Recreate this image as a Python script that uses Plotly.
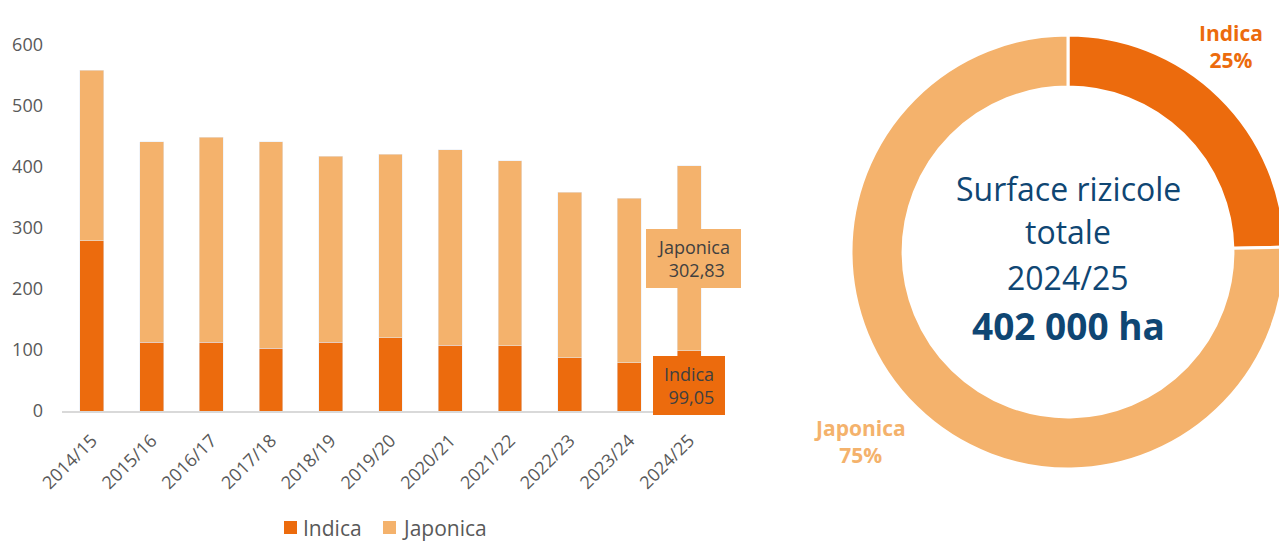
import plotly.graph_objects as go

campaigns = ["2014/15", "2015/16", "2016/17", "2017/18", "2018/19", "2019/20",
             "2020/21", "2021/22", "2022/23", "2023/24", "2024/25"]
indica = [279, 113, 113, 103, 113, 120, 108, 107, 87, 79, 99.05]
japonica = [280, 328, 336, 338, 305, 301, 320, 303, 272, 270, 302.83]
donut_labels = ["Indica", "Japonica"]
donut_values = [99.05, 302.83]

C_IND = "#ec6b0d"
C_JAP = "#f4b26c"
C_BLUE = "#0f4673"
FONT = "Open Sans"
# page body has an 8px margin: figure drawn from (8, 8)
OX, OY = 8, 8
FW, FH = 1279, 533


def px(x):
    return (x - OX) / FW


def py(y):
    return (FH - (y - OY)) / FH


fig = go.Figure()
fig.add_trace(go.Bar(x=campaigns, y=indica, name="Indica", marker_color=C_IND, width=0.4,
                     showlegend=False))
fig.add_trace(go.Bar(x=campaigns, y=japonica, name="Japonica", marker_color=C_JAP, width=0.4,
                     showlegend=False))

fig.add_trace(go.Pie(labels=donut_labels, values=donut_values, hole=0.76, sort=False,
                     direction="clockwise", rotation=0, textinfo="none", showlegend=False,
                     marker=dict(colors=[C_IND, C_JAP], line=dict(color="white", width=3)),
                     domain=dict(x=[px(851), px(1285)], y=[py(469), py(35)])))

last = campaigns[-1]
fig.add_annotation(x=last, y=indica[-1] + japonica[-1] / 2, xref="x", yref="y",
                   text="Japonica<br> " + f"{japonica[-1]:.2f}".replace(".", ","),
                   showarrow=False, bgcolor=C_JAP, borderpad=7.5, borderwidth=0,
                   width=80, height=44, xshift=4,
                   font=dict(family=FONT, size=18, color="#404040"))
fig.add_annotation(x=last, y=indica[-1] / 2 - 8.5, xref="x", yref="y",
                   text="Indica<br> " + f"{indica[-1]:.2f}".replace(".", ","),
                   showarrow=False, bgcolor=C_IND, borderpad=7.5, borderwidth=0,
                   width=57, height=44, xshift=0,
                   font=dict(family=FONT, size=18, color="#404040"))

# legend drawn manually (keeps plot geometry fixed)
for name, color, x0 in [("Indica", C_IND, 284), ("Japonica", C_JAP, 383)]:
    fig.add_shape(type="rect", xref="paper", yref="paper",
                  x0=px(x0), x1=px(x0 + 13), y0=py(534), y1=py(521),
                  fillcolor=color, line=dict(width=0))
    fig.add_annotation(x=px(x0 + 17), y=py(527.5), xref="paper", yref="paper",
                       showarrow=False, xanchor="left", yanchor="middle", text=name,
                       font=dict(family=FONT, size=21, color="#595959"))

cx = px(1068)
for txt, yy, sz in [("Surface rizicole", 188, 32), ("totale", 232, 32), ("2024/25", 277, 32),
                    ("<b>402 000 ha</b>", 325, 37)]:
    fig.add_annotation(x=cx, y=py(yy), xref="paper", yref="paper", showarrow=False,
                       xanchor="center", yanchor="middle", text=txt,
                       font=dict(family=FONT, size=sz, color=C_BLUE))
pct = [round(v / sum(donut_values) * 100) for v in donut_values]
fig.add_annotation(x=px(1231), y=py(46), xref="paper", yref="paper", showarrow=False,
                   xanchor="center", yanchor="middle",
                   text=f"<b>{donut_labels[0]}<br>{pct[0]}%</b>",
                   font=dict(family=FONT, size=21, color=C_IND))
fig.add_annotation(x=px(860), y=py(441), xref="paper", yref="paper", showarrow=False,
                   xanchor="center", yanchor="middle",
                   text=f"<b>{donut_labels[1]}<br>{pct[1]}%</b>",
                   font=dict(family=FONT, size=21, color=C_JAP))

fig.update_layout(
    width=FW, height=FH, barmode="stack", showlegend=False,
    margin=dict(l=0, r=0, t=0, b=0, autoexpand=False),
    paper_bgcolor="white", plot_bgcolor="white",
    font=dict(family=FONT, color="#595959"),
    xaxis=dict(domain=[px(62), px(719)], range=[-0.5, len(campaigns) - 0.5],
               showgrid=False, showline=True, linecolor="#d9d9d9",
               linewidth=2, tickangle=-45, tickfont=dict(size=18, color="#595959"),
               ticks="", automargin=False, ticklabelstandoff=10),
    yaxis=dict(domain=[py(411), py(45)], range=[0, 600], dtick=100,
               showgrid=False, zeroline=False, showline=False, ticks="",
               tickfont=dict(size=18, color="#595959"), automargin=False, ticklabelstandoff=18),
)

fig.write_html("out.html")
